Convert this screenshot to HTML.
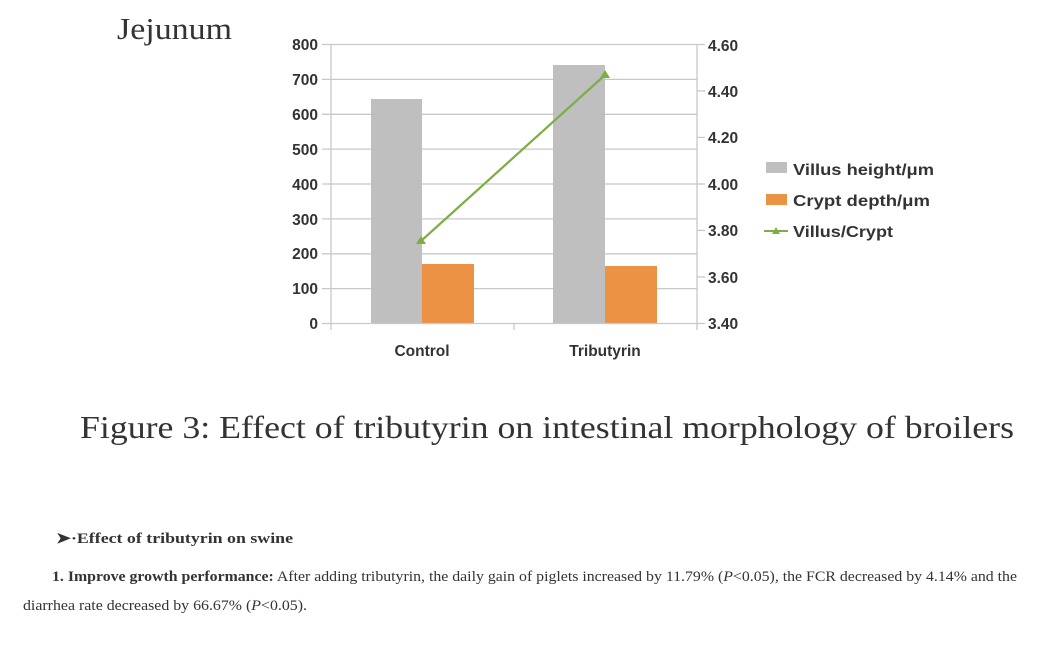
<!DOCTYPE html>
<html><head><meta charset="utf-8"><style>
body{margin:0;width:1057px;height:647px;background:#fff;overflow:hidden;position:relative;font-family:"Liberation Sans",sans-serif}
</style></head><body>
<svg width="1057" height="647" style="position:absolute;left:0;top:0">
<text x="117" y="39" font-family="Liberation Serif,serif" font-size="31" fill="#333" textLength="115" lengthAdjust="spacingAndGlyphs">Jejunum</text>
<g stroke="#c8c8c8" stroke-width="1.3">
<line x1="322" y1="44.5" x2="697" y2="44.5"/>
<line x1="322" y1="79.4" x2="697" y2="79.4"/>
<line x1="322" y1="114.3" x2="697" y2="114.3"/>
<line x1="322" y1="149.1" x2="697" y2="149.1"/>
<line x1="322" y1="184" x2="697" y2="184"/>
<line x1="322" y1="218.9" x2="697" y2="218.9"/>
<line x1="322" y1="253.8" x2="697" y2="253.8"/>
<line x1="322" y1="288.6" x2="697" y2="288.6"/>
<line x1="331" y1="44" x2="331" y2="330"/>
<line x1="697" y1="44" x2="697" y2="330"/>
<line x1="514" y1="323" x2="514" y2="330"/>
<line x1="697" y1="90.9" x2="705" y2="90.9"/>
<line x1="697" y1="137.4" x2="705" y2="137.4"/>
<line x1="697" y1="184" x2="705" y2="184"/>
<line x1="697" y1="230.4" x2="705" y2="230.4"/>
<line x1="697" y1="276.9" x2="705" y2="276.9"/>
<line x1="697" y1="44.5" x2="705" y2="44.5"/>
<line x1="697" y1="323.5" x2="705" y2="323.5"/>
</g>
<rect x="371" y="99" width="51" height="224.5" fill="#bfbfbf"/>
<rect x="422" y="264" width="52" height="59.5" fill="#eb9245"/>
<rect x="553" y="65" width="52" height="258.5" fill="#bfbfbf"/>
<rect x="605" y="266" width="52" height="57.5" fill="#eb9245"/>
<line x1="322" y1="323.5" x2="697" y2="323.5" stroke="#c8c8c8" stroke-width="1.3"/>
<line x1="421" y1="241" x2="605" y2="75" stroke="#7cae44" stroke-width="2.2"/>
<polygon points="421,236 426,244 416,244" fill="#7cae44"/>
<polygon points="605,70 610,78 600,78" fill="#7cae44"/>
<g font-size="15.5" font-weight="bold" fill="#333" text-anchor="end">
<text x="318" y="50">800</text><text x="318" y="85">700</text><text x="318" y="120">600</text><text x="318" y="155">500</text><text x="318" y="190">400</text><text x="318" y="225">300</text><text x="318" y="259">200</text><text x="318" y="294">100</text><text x="318" y="329">0</text>
</g>
<g font-size="15.5" font-weight="bold" fill="#333">
<text x="708" y="51">4.60</text><text x="708" y="97">4.40</text><text x="708" y="143">4.20</text><text x="708" y="190">4.00</text><text x="708" y="236">3.80</text><text x="708" y="283">3.60</text><text x="708" y="329">3.40</text>
<text x="422" y="356" text-anchor="middle">Control</text>
<text x="605" y="356" text-anchor="middle">Tributyrin</text>
<text x="793" y="175" textLength="141" lengthAdjust="spacingAndGlyphs">Villus height/μm</text>
<text x="793" y="206" textLength="137" lengthAdjust="spacingAndGlyphs">Crypt depth/μm</text>
<text x="793" y="237" textLength="100" lengthAdjust="spacingAndGlyphs">Villus/Crypt</text>
</g>
<rect x="766" y="162" width="21" height="11" fill="#bfbfbf"/>
<rect x="766" y="194" width="21" height="11" fill="#eb9245"/>
<line x1="764" y1="231" x2="788" y2="231" stroke="#7cae44" stroke-width="2"/>
<polygon points="776,227 780,234 772,234" fill="#7cae44"/>
<text x="80" y="438" font-family="Liberation Serif,serif" font-size="31.5" fill="#333" textLength="934" lengthAdjust="spacingAndGlyphs">Figure 3: Effect of tributyrin on intestinal morphology of broilers</text>
<g font-family="Liberation Serif,serif" font-size="15" fill="#333">
<text x="56" y="543" font-weight="bold" textLength="237" lengthAdjust="spacingAndGlyphs">➤·Effect of tributyrin on swine</text>
<text x="52" y="581" textLength="965" lengthAdjust="spacingAndGlyphs"><tspan font-weight="bold">1. Improve growth performance:</tspan> After adding tributyrin, the daily gain of piglets increased by 11.79% (<tspan font-style="italic">P</tspan>&lt;0.05), the FCR decreased by 4.14% and the</text>
<text x="23" y="610" textLength="284" lengthAdjust="spacingAndGlyphs">diarrhea rate decreased by 66.67% (<tspan font-style="italic">P</tspan>&lt;0.05).</text>
</g>
</svg>
</body></html>
